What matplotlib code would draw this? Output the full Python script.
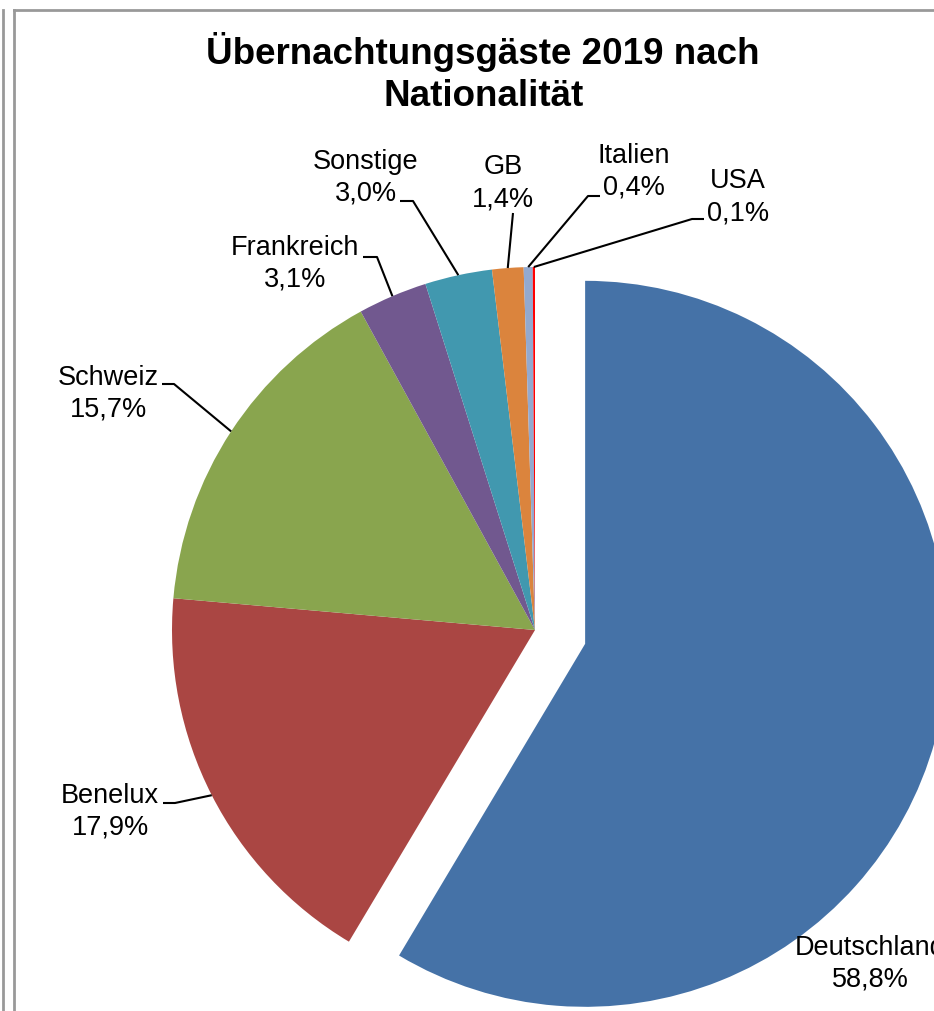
"""
Pie chart: overnight guests 2019 by nationality
"""

import matplotlib
matplotlib.use("Agg")
import matplotlib.pyplot as plt
from matplotlib.lines import Line2D
import numpy as np

W, H = 934, 1011

# data
countries = ['Deutschland', 'Benelux', 'Schweiz', 'Frankreich',
             'Sonstige', 'GB', 'Italien', 'USA']
shares = [58.8, 17.9, 15.7, 3.1, 3.0, 1.4, 0.4, 0.1]
share_labels = ['58,8%', '17,9%', '15,7%', '3,1%', '3,0%', '1,4%', '0,4%', '0,1%']
colors = ['#4572A7', '#AA4643', '#89A54E', '#71588F',
          '#4198AF', '#DB843D', '#93A9CF', '#FF0000']

# label layout in pixel coords (centre x, first line y) and leader knee points
label_pos = {
    'Deutschland': (870, 948),
    'Benelux': (110, 796),
    'Schweiz': (108, 378),
    'Frankreich': (295, 248),
    'Sonstige': (366, 162),
    'GB': (503, 167),
    'Italien': (634, 156),
    'USA': (738, 181),
}
leader_knee = {
    'Benelux': [(163, 803), (175, 803)],
    'Schweiz': [(162, 384), (174, 384)],
    'Frankreich': [(363, 257), (377, 257)],
    'Sonstige': [(400, 201), (413, 201)],
    'GB': [(513, 213)],
    'Italien': [(600, 196), (588, 196)],
    'USA': [(704, 219), (692, 219)],
}

plt.rcParams['font.family'] = ['Liberation Sans', 'DejaVu Sans']

fig = plt.figure(figsize=(W / 100, H / 100), dpi=100)
ax = fig.add_axes([0, 0, 1, 1])


def px(x, y):
    return x, H - y


cx, cy = 535, 630
radius = 363
# pie explode is in data units here (pixels), not in radius units
explode = [52] + [0] * (len(shares) - 1)

wedges, _ = ax.pie(shares, colors=colors, startangle=90, counterclock=False,
                   radius=radius, center=px(cx, cy), explode=explode,
                   wedgeprops=dict(linewidth=0), frame=True)
ax.set_xlim(0, W)
ax.set_ylim(0, H)
ax.axis('off')

# labels and leader lines
for name, lab, w in zip(countries, share_labels, wedges):
    x, y = label_pos[name]
    ax.text(*px(x, y), name, ha='center', va='center', fontsize=19.5)
    ax.text(*px(x, y + 32), lab, ha='center', va='center', fontsize=19.5)
    if name in leader_knee:
        mid = np.deg2rad((w.theta1 + w.theta2) / 2)
        ex = w.center[0] + w.r * np.cos(mid)
        ey = w.center[1] + w.r * np.sin(mid)
        pts = [px(*p) for p in leader_knee[name]] + [(ex, ey)]
        xs, ys = zip(*pts)
        ax.plot(xs, ys, color='black', lw=1.5, solid_capstyle='butt')

# title
ax.text(*px(483, 52), 'Übernachtungsgäste 2019 nach', ha='center', va='center',
        fontsize=26.5, fontweight='bold')
ax.text(*px(484, 97), 'Nationalität', ha='center', va='center',
        fontsize=26.5, fontweight='bold')

# frame lines like the original screenshot
gray = '#999999'
for line in [([3, 3], [10, H]), ([14, 14], [10, H]), ([14, W], [10, 10])]:
    fig.add_artist(Line2D([v / W for v in line[0]], [1 - v / H for v in line[1]],
                          color=gray, lw=2))

fig.savefig('out.png', dpi=100)
